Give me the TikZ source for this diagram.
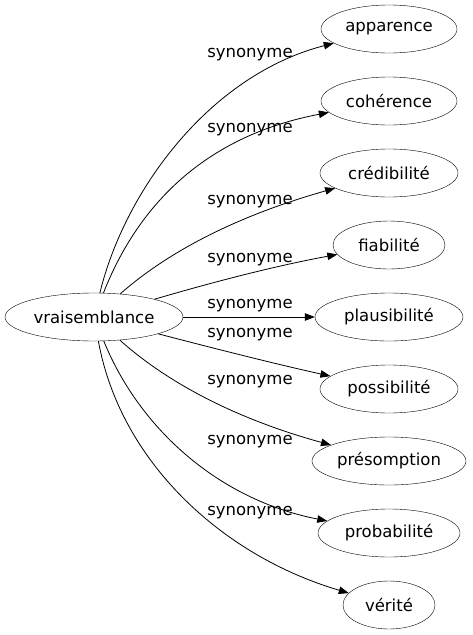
\documentclass[tikz,border=0pt]{standalone}
\usepackage{fontspec}
\setmainfont{DejaVu Sans}
\usetikzlibrary{shapes.geometric,arrows.meta}
\begin{document}
\begin{tikzpicture}[x=1pt,y=-1pt,
  word/.style={draw,ellipse,inner sep=0pt,minimum height=48pt,font=\fontsize{16.5}{19}\selectfont},
  lab/.style={inner sep=0pt,font=\fontsize{16.5}{19}\selectfont},
  link/.style={draw,line width=0.8pt,-{Triangle[length=10pt,width=7.5pt]}}]
\useasboundingbox (0,0) rectangle (473,635);
\node[word,minimum width=178pt] (v) at (94,317) {vraisemblance};
\node[word,minimum width=136pt] (a1) at (389,29) {apparence};
\node[word,minimum width=136pt] (a2) at (389,101) {cohérence};
\node[word,minimum width=138pt] (a3) at (389,173) {crédibilité};
\node[word,minimum width=112pt] (a4) at (389,245) {fiabilité};
\node[word,minimum width=148pt] (a5) at (389,317) {plausibilité};
\node[word,minimum width=138pt] (a6) at (389,389) {possibilité};
\node[word,minimum width=154pt] (a7) at (389,461) {présomption};
\node[word,minimum width=142pt] (a8) at (389,533) {probabilité};
\node[word,minimum width=92pt] (a9) at (389,605) {vérité};
\draw[link] (v) .. controls (125,190) and (210,75) .. (a1);
\draw[link] (v) .. controls (140,200) and (210,135) .. (a2);
\draw[link] (v) .. controls (170,250) and (240,215) .. (a3);
\draw[link] (v) .. controls (220,280) and (280,265) .. (a4);
\draw[link] (v) -- (a5);
\draw[link] (v) .. controls (220,350) and (280,365) .. (a6);
\draw[link] (v) .. controls (170,385) and (240,420) .. (a7);
\draw[link] (v) .. controls (140,430) and (220,500) .. (a8);
\draw[link] (v) .. controls (120,460) and (220,555) .. (a9);
\node[lab] (l1) at (250,55) {synonyme};
\node[lab] (l2) at (250,130) {synonyme};
\node[lab] (l3) at (250,202) {synonyme};
\node[lab] (l4) at (250,260) {synonyme};
\node[lab] (l5) at (250,306) {synonyme};
\node[lab] (l6) at (250,335) {synonyme};
\node[lab] (l7) at (250,382) {synonyme};
\node[lab] (l8) at (250,442) {synonyme};
\node[lab] (l9) at (250,513) {synonyme};
\end{tikzpicture}
\end{document}
